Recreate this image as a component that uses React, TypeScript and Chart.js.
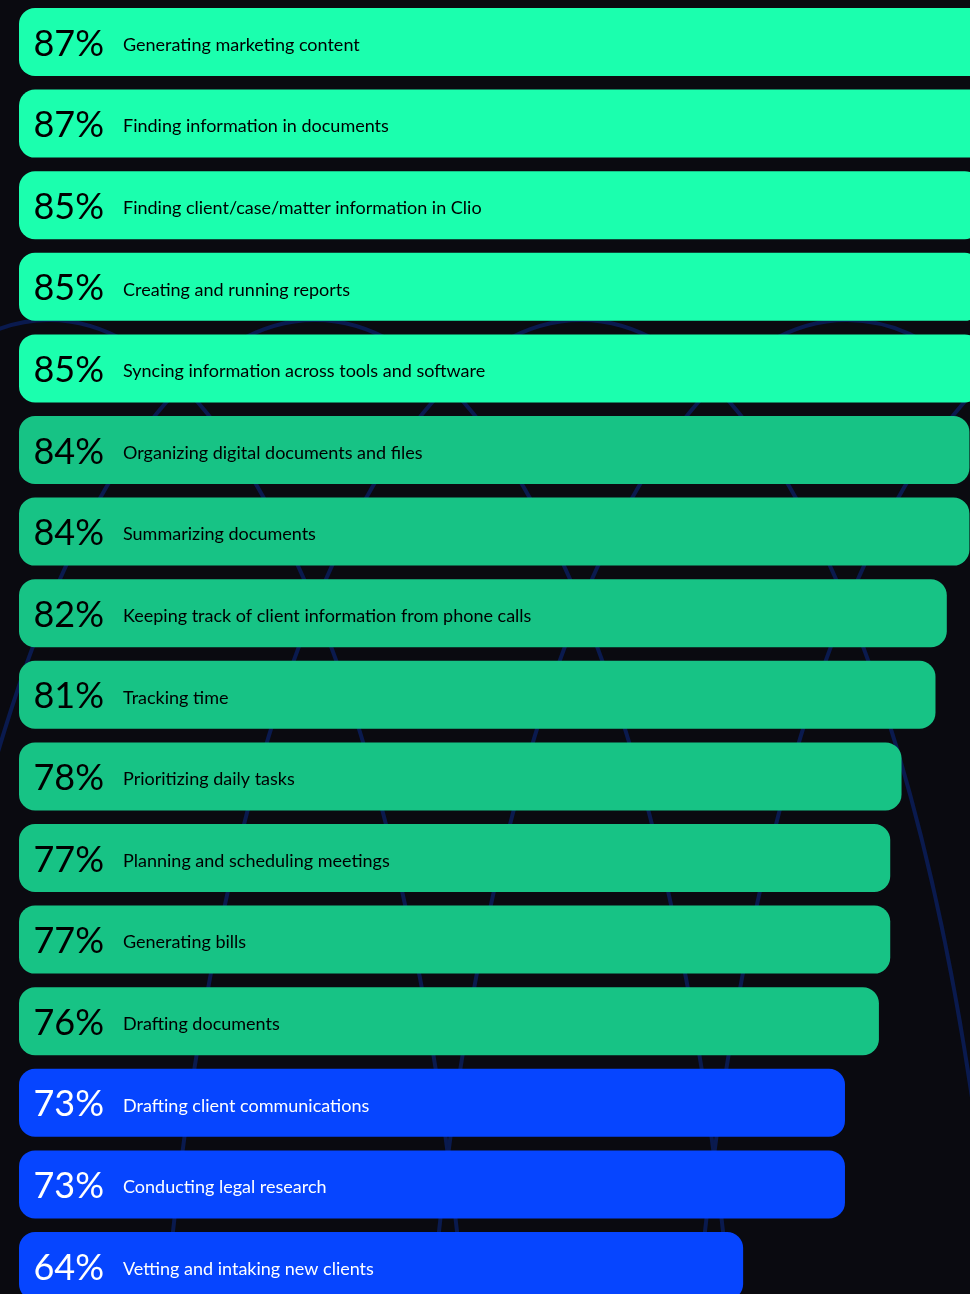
import React, { useEffect, useRef } from "react";
import { Chart, registerables } from "chart.js";

Chart.register(...registerables);

const categories: string[] = [
  "Generating marketing content",
  "Finding information in documents",
  "Finding client/case/matter information in Clio",
  "Creating and running reports",
  "Syncing information across tools and software",
  "Organizing digital documents and files",
  "Summarizing documents",
  "Keeping track of client information from phone calls",
  "Tracking time",
  "Prioritizing daily tasks",
  "Planning and scheduling meetings",
  "Generating bills",
  "Drafting documents",
  "Drafting client communications",
  "Conducting legal research",
  "Vetting and intaking new clients",
];

const values: number[] = [87, 87, 85, 85, 85, 84, 84, 82, 81, 78, 77, 77, 76, 73, 73, 64];

const MINT = "#1bffae";
const GREEN = "#17c385";
const BLUE = "#0645ff";

function barColor(v: number): string {
  if (v >= 85) return MINT;
  if (v >= 74) return GREEN;
  return BLUE;
}

function textColor(v: number): string {
  return v >= 74 ? "#000000" : "#ffffff";
}

const labelPlugin = {
  id: "barLabels",
  afterDatasetsDraw(chart: any) {
    const ctx = chart.ctx;
    const meta = chart.getDatasetMeta(0);
    ctx.save();
    meta.data.forEach((bar: any, i: number) => {
      const v = values[i];
      const y = bar.y;
      ctx.fillStyle = textColor(v);
      ctx.textBaseline = "middle";
      ctx.textAlign = "right";
      ctx.font = "400 36px Lato";
      ctx.fillText(v + "%", 104, y + 2);
      ctx.textAlign = "left";
      ctx.font = "400 18px Lato";
      ctx.fillText(categories[i], 123, y + 3);
    });
    ctx.restore();
  },
};

// decorative background loops
const bgPlugin = {
  id: "bgDeco",
  beforeDraw(chart: any) {
    const ctx = chart.ctx;
    ctx.save();
    ctx.fillStyle = "#0a0a10";
    ctx.fillRect(0, 0, chart.width, chart.height);
    ctx.strokeStyle = "#0a1a4e";
    ctx.lineWidth = 4;
    const centers = [49, 315, 581, 847, 1113];
    centers.forEach((cx) => {
      ctx.beginPath();
      ctx.ellipse(cx, 1652, 430, 1332, 0, 0, Math.PI * 2);
      ctx.stroke();
    });
    ctx.restore();
  },
};

export default function App() {
  const ref = useRef<HTMLCanvasElement | null>(null);
  useEffect(() => {
    if (!ref.current) return;
    const chart = new Chart(ref.current, {
      type: "bar",
      data: {
        labels: categories,
        datasets: [
          {
            data: values,
            backgroundColor: values.map(barColor),
            borderRadius: 16,
            borderSkipped: false,
            barPercentage: 68 / 81.6,
            categoryPercentage: 1,
          },
        ],
      },
      options: {
        indexAxis: "y",
        responsive: false,
        animation: false,
        layout: { padding: { left: 19, right: 0, top: 1.2, bottom: 3.2 } },
        plugins: { legend: { display: false }, tooltip: { enabled: false } },
        scales: {
          x: { display: false, min: 0, max: 84.05 },
          y: { display: false },
        },
      },
      plugins: [bgPlugin, labelPlugin],
    });
    return () => chart.destroy();
  }, []);
  return (
    <div
      style={{
        position: "absolute",
        left: 0,
        top: 0,
        width: 970,
        height: 1294,
        overflow: "hidden",
        background: "#0a0a10",
      }}
    >
      <canvas ref={ref} width={970} height={1310} style={{ display: "block" }} />
    </div>
  );
}
